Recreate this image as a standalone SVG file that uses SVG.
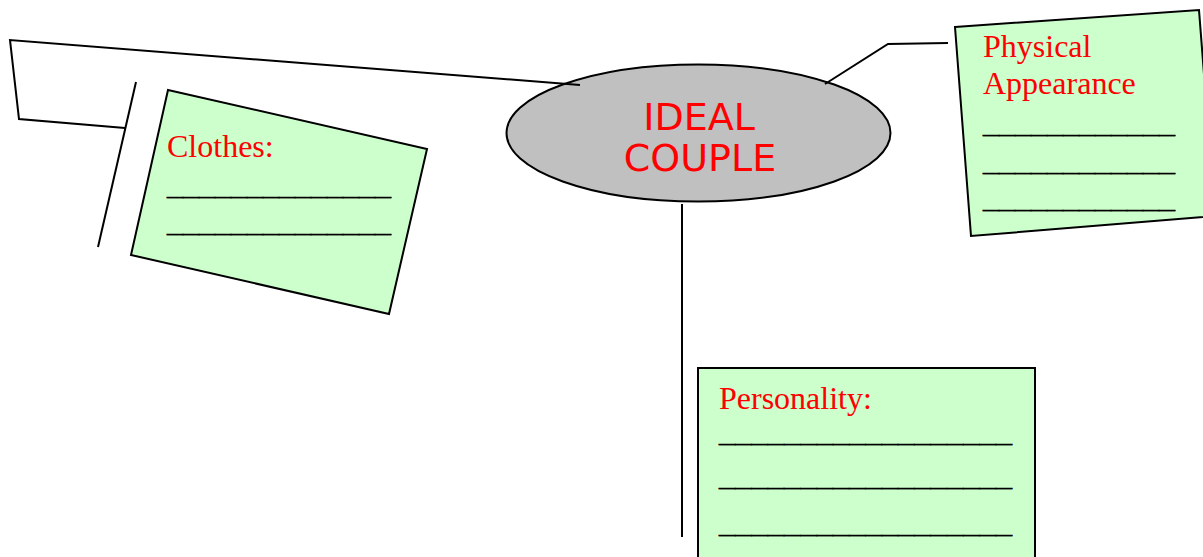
<svg xmlns="http://www.w3.org/2000/svg" width="1203" height="557" viewBox="0 0 1203 557">
<style>
.box{fill:#CCFFCC;stroke:#000;stroke-width:2}
.lbl{font-family:"Liberation Serif","Times New Roman",serif;font-size:32px;fill:#FF0000}
.ul{font-family:"Liberation Serif","Times New Roman",serif;font-size:20px;fill:#000;stroke:#000;stroke-width:0.4}
.conn{fill:none;stroke:#000;stroke-width:2}
.title{font-family:"DejaVu Sans",sans-serif;font-size:38px;fill:#FF0000;text-anchor:middle}
</style>
<rect width="1203" height="557" fill="#fff"/>
<g id="center">
<ellipse cx="698.5" cy="133" rx="192" ry="68.5" fill="#C0C0C0" stroke="#000" stroke-width="2"/>
<text class="title" x="699" y="130">IDEAL</text>
<text class="title" x="700" y="171">COUPLE</text>
</g>
<g id="connectors">
<polyline class="conn" points="580,85 10,40 19,119 125,128"/>
<line class="conn" x1="136" y1="82" x2="98" y2="247"/>
<polyline class="conn" points="825,84 888,44 948,43"/>
<line class="conn" x1="682" y1="204" x2="682" y2="537"/>
</g>
<g id="clothes">
<polygon class="box" points="168,90 427,149 389,314 131,255"/>
<text class="lbl" x="167" y="157">Clothes:</text>
<text class="ul" x="167" y="194.5" textLength="224" lengthAdjust="spacingAndGlyphs">______________</text>
<text class="ul" x="167" y="231.5" textLength="224" lengthAdjust="spacingAndGlyphs">______________</text>
</g>
<g id="physical">
<polygon class="box" points="955,27 1199,10 1215,216 971,236"/>
<text class="lbl" x="983" y="57">Physical</text>
<text class="lbl" x="983" y="94">Appearance</text>
<text class="ul" x="983" y="132.5" textLength="192" lengthAdjust="spacingAndGlyphs">____________</text>
<text class="ul" x="983" y="170.5" textLength="192" lengthAdjust="spacingAndGlyphs">____________</text>
<text class="ul" x="983" y="207.5" textLength="192" lengthAdjust="spacingAndGlyphs">____________</text>
</g>
<g id="personality">
<rect class="box" x="698" y="368" width="337" height="200"/>
<text class="lbl" x="719" y="409">Personality:</text>
<text class="ul" x="719" y="441.5" textLength="293" lengthAdjust="spacingAndGlyphs">__________________</text>
<text class="ul" x="719" y="485.5" textLength="293" lengthAdjust="spacingAndGlyphs">__________________</text>
<text class="ul" x="719" y="532.5" textLength="293" lengthAdjust="spacingAndGlyphs">__________________</text>
</g>
</svg>
